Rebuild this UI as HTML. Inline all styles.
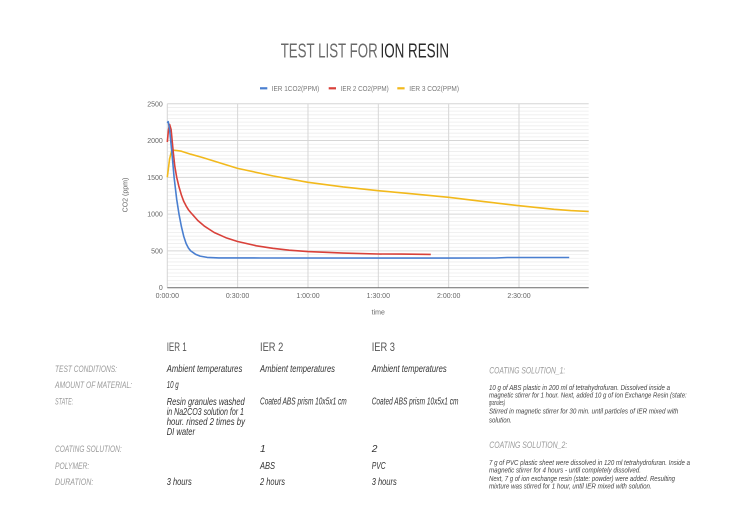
<!DOCTYPE html>
<html><head><meta charset="utf-8"><style>
html,body{margin:0;padding:0;background:#fff;}
svg{display:block;}
text{font-family:"Liberation Sans",sans-serif;}
.lbl{font-style:italic;fill:#9a9a9a;font-size:9.6px;}
.val{font-style:italic;fill:#333;font-size:10.2px;}
.hd{fill:#555;font-size:11.8px;}
.p{font-style:italic;fill:#444;font-size:7px;}
.ax{fill:#666;font-size:7px;}
</style></head><body>
<svg width="730" height="516" viewBox="0 0 730 516" xmlns="http://www.w3.org/2000/svg">
<rect width="730" height="516" fill="#fff"/>
<!-- title -->
<text x="280.7" y="57.7" font-size="20.5" fill="#6a6a6a" textLength="97" lengthAdjust="spacingAndGlyphs">TEST LIST FOR</text>
<text x="380.5" y="57.7" font-size="20.5" fill="#2a2a2a" textLength="68.5" lengthAdjust="spacingAndGlyphs">ION RESIN</text>
<!-- legend -->
<rect x="260" y="87.2" width="7.3" height="2.2" fill="#4a7fd0"/>
<text x="271.7" y="91.2" font-size="7" fill="#777" textLength="47.6" lengthAdjust="spacingAndGlyphs">IER 1CO2(PPM)</text>
<rect x="328.7" y="87.2" width="7.3" height="2.2" fill="#d9413a"/>
<text x="340.7" y="91.2" font-size="7" fill="#777" textLength="48" lengthAdjust="spacingAndGlyphs">IER 2 CO2(PPM)</text>
<rect x="397.3" y="87.2" width="7.3" height="2.2" fill="#f2b91c"/>
<text x="409.3" y="91.2" font-size="7" fill="#777" textLength="49.7" lengthAdjust="spacingAndGlyphs">IER 3 CO2(PPM)</text>
<!-- minor gridlines -->
<path stroke="#ededed" stroke-width="0.8" fill="none" d="M167.3 284.02H588.7M167.3 280.34H588.7M167.3 276.66H588.7M167.3 272.98H588.7M167.3 269.30H588.7M167.3 265.63H588.7M167.3 261.95H588.7M167.3 258.27H588.7M167.3 254.59H588.7M167.3 247.23H588.7M167.3 243.55H588.7M167.3 239.87H588.7M167.3 236.19H588.7M167.3 232.52H588.7M167.3 228.84H588.7M167.3 225.16H588.7M167.3 221.48H588.7M167.3 217.80H588.7M167.3 210.44H588.7M167.3 206.76H588.7M167.3 203.08H588.7M167.3 199.40H588.7M167.3 195.72H588.7M167.3 192.05H588.7M167.3 188.37H588.7M167.3 184.69H588.7M167.3 181.01H588.7M167.3 173.65H588.7M167.3 169.97H588.7M167.3 166.29H588.7M167.3 162.61H588.7M167.3 158.93H588.7M167.3 155.26H588.7M167.3 151.58H588.7M167.3 147.90H588.7M167.3 144.22H588.7M167.3 136.86H588.7M167.3 133.18H588.7M167.3 129.50H588.7M167.3 125.82H588.7M167.3 122.14H588.7M167.3 118.47H588.7M167.3 114.79H588.7M167.3 111.11H588.7M167.3 107.43H588.7"/>
<!-- major gridlines -->
<path stroke="#d6d6d6" stroke-width="1" fill="none" d="M167.3 250.91H588.7M167.3 214.12H588.7M167.3 177.33H588.7M167.3 140.54H588.7M167.3 103.75H588.7M237.64 103.75V287.7M307.98 103.75V287.7M378.32 103.75V287.7M448.66 103.75V287.7M519.0 103.75V287.7M167.3 103.75V287.7"/>
<!-- axis -->
<path stroke="#6a6a6a" stroke-width="1" d="M167.3 287.7H588.7"/>
<!-- y labels -->
<g class="ax" text-anchor="end">
<text x="162.8" y="106.3">2500</text>
<text x="162.8" y="143.0">2000</text>
<text x="162.8" y="179.8">1500</text>
<text x="162.8" y="216.6">1000</text>
<text x="162.8" y="253.4">500</text>
<text x="162.8" y="290.2">0</text>
</g>
<g class="ax" text-anchor="middle">
<text x="167.3" y="297.8">0:00:00</text>
<text x="237.6" y="297.8">0:30:00</text>
<text x="308.0" y="297.8">1:00:00</text>
<text x="378.3" y="297.8">1:30:00</text>
<text x="448.7" y="297.8">2:00:00</text>
<text x="519.0" y="297.8">2:30:00</text>
<text x="378.3" y="314.5">time</text>
<text transform="translate(127.5,195) rotate(-90)" x="0" y="0">CO2 (ppm)</text>
</g>
<!-- series -->
<polyline fill="none" stroke="#f2b91c" stroke-width="1.6" stroke-linejoin="round" points="167.3,177.3 169.6,158.9 171.8,150.1 176.7,150.5 181.4,151.2 190.7,154.2 202.5,157.5 214.2,161.1 237.6,168.4 272.8,175.9 308.0,182.3 343.2,186.9 378.3,190.7 413.5,193.9 448.7,197.3 483.8,201.6 519.0,205.7 554.2,209.3 570.6,210.6 588.7,211.5"/>
<polyline fill="none" stroke="#d9413a" stroke-width="1.6" stroke-linejoin="round" points="167.3,142.0 168.5,129.5 169.6,124.4 171.1,129.5 173.2,151.6 174.8,166.3 176.7,177.3 179.0,186.9 181.4,195.0 183.7,201.3 186.1,205.9 188.4,209.7 190.8,212.6 193.1,215.2 197.8,220.5 204.1,225.9 214.2,232.5 225.9,237.7 237.6,241.5 256.4,245.8 272.8,248.3 289.2,250.2 308.0,251.6 343.2,253.1 378.3,254.0 401.8,254.1 430.8,254.4"/>
<polyline fill="none" stroke="#4a7fd0" stroke-width="1.6" stroke-linejoin="round" points="167.3,122.9 168.2,121.6 169.6,129.5 172.0,153.8 174.1,177.3 176.7,199.4 179.0,214.1 181.4,226.6 183.7,236.2 186.1,243.5 188.4,248.0 190.7,250.9 195.4,254.2 200.1,256.1 207.2,257.4 218.9,257.9 261.1,258.0 448.7,258.1 495.6,258.0 507.3,257.5 569.2,257.5"/>
<!-- table headers -->
<text class="hd" x="166.7" y="350.9" textLength="20" lengthAdjust="spacingAndGlyphs">IER 1</text>
<text class="hd" x="260" y="350.9" textLength="23.3" lengthAdjust="spacingAndGlyphs">IER 2</text>
<text class="hd" x="371.7" y="350.9" textLength="23.3" lengthAdjust="spacingAndGlyphs">IER 3</text>
<!-- row labels -->
<text class="lbl" x="55" y="371.8" textLength="62" lengthAdjust="spacingAndGlyphs">TEST CONDITIONS:</text>
<text class="lbl" x="55" y="387.8" textLength="77" lengthAdjust="spacingAndGlyphs">AMOUNT OF MATERIAL:</text>
<text class="lbl" x="55" y="404.4" textLength="18.3" lengthAdjust="spacingAndGlyphs">STATE:</text>
<text class="lbl" x="55" y="451.8" textLength="66.7" lengthAdjust="spacingAndGlyphs">COATING SOLUTION:</text>
<text class="lbl" x="55" y="469.0" textLength="34.3" lengthAdjust="spacingAndGlyphs">POLYMER:</text>
<text class="lbl" x="55" y="485.0" textLength="38.3" lengthAdjust="spacingAndGlyphs">DURATION:</text>
<!-- IER1 values -->
<text class="val" x="166.7" y="371.8" textLength="75.6" lengthAdjust="spacingAndGlyphs">Ambient temperatures</text>
<text class="val" x="166.7" y="387.8" textLength="12" lengthAdjust="spacingAndGlyphs">10 g</text>
<text class="val" x="166.7" y="404.8" textLength="78" lengthAdjust="spacingAndGlyphs">Resin granules washed</text>
<text class="val" x="166.7" y="414.8" textLength="77.3" lengthAdjust="spacingAndGlyphs">in Na2CO3 solution for 1</text>
<text class="val" x="166.7" y="424.8" textLength="78.3" lengthAdjust="spacingAndGlyphs">hour.  rinsed 2 times by</text>
<text class="val" x="166.7" y="434.8" textLength="28.3" lengthAdjust="spacingAndGlyphs">DI water</text>
<text class="val" x="166.7" y="485.0" textLength="25" lengthAdjust="spacingAndGlyphs">3 hours</text>
<!-- IER2 values -->
<text class="val" x="260" y="371.8" textLength="75" lengthAdjust="spacingAndGlyphs">Ambient temperatures</text>
<text class="val" x="260" y="404.4" textLength="86.7" lengthAdjust="spacingAndGlyphs">Coated ABS prism 10x5x1 cm</text>
<text class="val" x="260" y="451.8">1</text>
<text class="val" x="260" y="469.0" textLength="15" lengthAdjust="spacingAndGlyphs">ABS</text>
<text class="val" x="260" y="485.0" textLength="25" lengthAdjust="spacingAndGlyphs">2 hours</text>
<!-- IER3 values -->
<text class="val" x="371.7" y="371.8" textLength="75" lengthAdjust="spacingAndGlyphs">Ambient temperatures</text>
<text class="val" x="371.7" y="404.4" textLength="86.7" lengthAdjust="spacingAndGlyphs">Coated ABS prism 10x5x1 cm</text>
<text class="val" x="371.7" y="451.8">2</text>
<text class="val" x="371.7" y="469.0" textLength="14" lengthAdjust="spacingAndGlyphs">PVC</text>
<text class="val" x="371.7" y="485.0" textLength="25" lengthAdjust="spacingAndGlyphs">3 hours</text>
<!-- coating solutions -->
<text class="lbl" x="489.3" y="373.5" font-size="10" textLength="76" lengthAdjust="spacingAndGlyphs">COATING SOLUTION_1:</text>
<text class="p" x="489" y="389.8" textLength="181" lengthAdjust="spacingAndGlyphs">10 g of ABS plastic in 200 ml of tetrahydrofuran. Dissolved inside a</text>
<text class="p" x="489" y="397.5" textLength="197.7" lengthAdjust="spacingAndGlyphs">magnetic stirrer for 1 hour. Next, added 10 g of Ion Exchange Resin (state:</text>
<text class="p" x="489" y="405.2" textLength="16" lengthAdjust="spacingAndGlyphs">granules)</text>
<text class="p" x="489" y="413.5" textLength="189.3" lengthAdjust="spacingAndGlyphs">Stirred in magnetic stirrer for 30 min. until particles of IER mixed with</text>
<text class="p" x="489" y="422.5" textLength="22.7" lengthAdjust="spacingAndGlyphs">solution.</text>
<text class="lbl" x="489.3" y="447.8" font-size="10" textLength="78" lengthAdjust="spacingAndGlyphs">COATING SOLUTION_2:</text>
<text class="p" x="489" y="464.8" textLength="201" lengthAdjust="spacingAndGlyphs">7 g of  PVC plastic sheet were dissolved in 120 ml tetrahydrofuran. Inside a</text>
<text class="p" x="489" y="472.5" textLength="152" lengthAdjust="spacingAndGlyphs">magnetic stirrer for 4 hours - until completely dissolved.</text>
<text class="p" x="489" y="480.8" textLength="186" lengthAdjust="spacingAndGlyphs">Next, 7 g of ion exchange resin (state: powder) were added. Resulting</text>
<text class="p" x="489" y="488.5" textLength="162.7" lengthAdjust="spacingAndGlyphs">mixture was stirred for 1 hour, until IER  mixed with solution.</text>
</svg>
</body></html>
